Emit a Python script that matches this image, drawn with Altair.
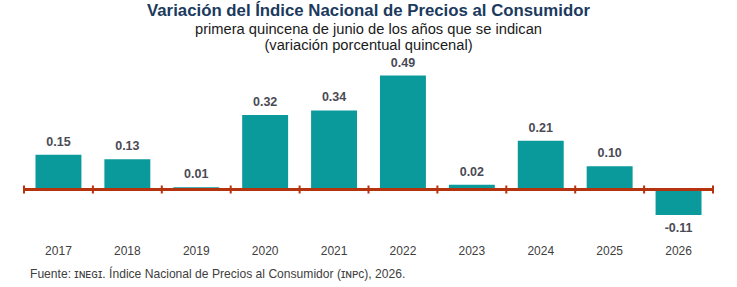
import altair as alt
import pandas as pd

# Quincenal INPC variation, first half of June
years = ["2017", "2018", "2019", "2020", "2021", "2022", "2023", "2024", "2025", "2026"]
values = [0.15, 0.13, 0.01, 0.32, 0.34, 0.49, 0.02, 0.21, 0.10, -0.11]

df = pd.DataFrame({"year": years, "value": values})

FONT = "Liberation Sans"
BAR = "#0A9A9C"
AXIS_RED = "#B5330E"
LABEL = "#4A4A55"

PLOT_W = 689
PAD_INNER = 1 / 3
STEP = PLOT_W / len(years)
HALF_GAP = STEP * PAD_INNER / 2  # distance from a bar edge to the step boundary

x_scale = alt.Scale(paddingInner=PAD_INNER, paddingOuter=PAD_INNER / 2)
y_scale = alt.Scale(domain=[-0.2, 0.6], nice=False, zero=True)

x_enc = alt.X(
    "year:N",
    sort=years,
    scale=x_scale,
    axis=alt.Axis(
        title=None,
        labelAngle=0,
        ticks=False,
        domain=False,
        grid=False,
        labelFont=FONT,
        labelFontSize=12,
        labelColor="#404040",
        labelPadding=9,
    ),
)

base = alt.Chart(df)

bars = base.mark_bar(color=BAR).encode(
    x=x_enc,
    y=alt.Y("value:Q", scale=y_scale, axis=None),
)

label_expr = "replace(format(datum.value, '.2f'), '\u2212', '-')"

pos_labels = (
    base.transform_filter("datum.value >= 0")
    .transform_calculate(label=label_expr)
    .mark_text(baseline="bottom", dy=-6, font=FONT, fontSize=12.5, fontWeight="bold", color=LABEL)
    .encode(x=alt.X("year:N", sort=years), y=alt.Y("value:Q"), text="label:N")
)

neg_labels = (
    base.transform_filter("datum.value < 0")
    .transform_calculate(label=label_expr)
    .mark_text(baseline="top", dy=7, font=FONT, fontSize=12.5, fontWeight="bold", color=LABEL)
    .encode(x=alt.X("year:N", sort=years), y=alt.Y("value:Q"), text="label:N")
)

zero_line = base.mark_rule(color=AXIS_RED, strokeWidth=2.5).encode(y=alt.datum(0))

# tick marks on the zero line, halfway between neighbouring bars
ticks = base.mark_rule(
    color=AXIS_RED, strokeWidth=2, yOffset=-4, y2Offset=4, xOffset=-HALF_GAP
).encode(
    x=alt.X("year:N", sort=years, bandPosition=0),
    y=alt.datum(0),
    y2=alt.datum(0),
)
end_tick = (
    base.transform_filter("datum.year == '2026'")
    .mark_rule(color=AXIS_RED, strokeWidth=2, yOffset=-4, y2Offset=4, xOffset=HALF_GAP)
    .encode(
        x=alt.X("year:N", sort=years, bandPosition=1),
        y=alt.datum(0),
        y2=alt.datum(0),
    )
)

source = (
    alt.Chart(pd.DataFrame({"t": ["Fuente: \u026a\u0274\u1d07\u0262\u026a. Índice Nacional de Precios al Consumidor (\u026a\u0274\u1d18\u1d04), 2026."]}))
    .mark_text(align="left", baseline="middle", font=FONT, fontSize=12.1, color="#404040")
    .encode(x=alt.value(6), y=alt.value(224), text="t:N")
)

chart = (
    alt.layer(bars, zero_line, ticks, end_tick, pos_labels, neg_labels, source)
    .properties(
        width=PLOT_W,
        height=186,
        background="white",
        autosize=alt.AutoSizeParams(type="none"),
        padding={"left": 24, "top": 50, "right": 24, "bottom": 51},
        title=alt.TitleParams(
            text="Variación del Índice Nacional de Precios al Consumidor",
            subtitle=["primera quincena de junio de los años que se indican", "(variación porcentual quincenal)"],
            font=FONT,
            fontSize=16.8,
            fontWeight="bold",
            color="#1B3A5E",
            subtitleFont=FONT,
            subtitleFontSize=14.7,
            subtitleColor="#1a1a1a",
            subtitlePadding=3,
            subtitleLineHeight=16,
            anchor="middle",
            offset=-3,
        ),
    )
    .configure_view(stroke=None)
)

chart.save("out.html", embed_options={"renderer": "svg", "actions": False})
